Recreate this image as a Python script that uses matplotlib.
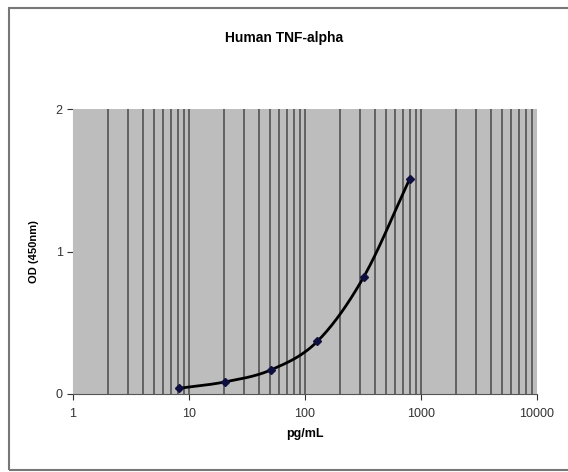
import numpy as np
import matplotlib.pyplot as plt
from matplotlib.patches import Rectangle

############### Data
conc = [8.192, 20.48, 51.2, 128, 320, 800]
od = [0.04, 0.085, 0.17, 0.37, 0.82, 1.51]
xticks = [1, 10, 100, 1000, 10000]
xticklabels = ['1', '10', '100', '1000', '10000']
yticks = [0, 1, 2]

############### Smoothed line (Catmull-Rom in log-x space, like Excel)
def smooth(x, y, n=30):
    x = np.log10(np.asarray(x, float))
    y = np.asarray(y, float)
    px = np.concatenate([[2*x[0]-x[1]], x, [2*x[-1]-x[-2]]])
    py = np.concatenate([[2*y[0]-y[1]], y, [2*y[-1]-y[-2]]])
    xs, ys = [], []
    t = np.linspace(0, 1, n)
    for i in range(1, len(px)-2):
        for p, out in ((px, xs), (py, ys)):
            p0, p1, p2, p3 = p[i-1], p[i], p[i+1], p[i+2]
            out.append(0.5*((2*p1) + (-p0+p2)*t + (2*p0-5*p1+4*p2-p3)*t**2
                            + (-p0+3*p1-3*p2+p3)*t**3))
    return 10**np.concatenate(xs), np.concatenate(ys)

sx, sy = smooth(conc, od)

############### Figure
plt.rcParams['font.family'] = ['Liberation Sans', 'DejaVu Sans']
fig = plt.figure(figsize=(5.68, 4.72), dpi=100)
fig.patches.append(Rectangle((9/568, 2/472), 570/568, 462/472, transform=fig.transFigure,
                             fill=False, edgecolor='#777777', linewidth=1.5))

ax = fig.add_axes([73/568, 78/472, 464/568, 285/472])
ax.set_facecolor('#bdbdbd')
ax.set_xscale('log')
ax.set_xlim(1, 10000)
ax.set_ylim(0, 2)

# vertical gridlines at every 1..9 of each decade
for dec in [1, 10, 100, 1000]:
    for m in range(1, 10):
        v = dec*m
        if 1 < v < 10000:
            ax.axvline(v, color='#5a5a5a', linewidth=1.3, zorder=1)

ax.plot(sx, sy, color='black', linewidth=2, zorder=3)
ax.plot(conc, od, linestyle='none', marker='D', markersize=4,
        color='#101040', zorder=4)

ax.set_xticks(xticks)
ax.set_xticklabels(xticklabels)
ax.xaxis.set_minor_locator(plt.NullLocator())
ax.set_yticks(yticks)
for s in ['top', 'right']:
    ax.spines[s].set_visible(False)
ax.spines['left'].set_color('#bdbdbd')
ax.spines['bottom'].set_color('#555555')
ax.tick_params(axis='both', labelsize=9, colors='#333333', length=4, width=0.8)
ax.tick_params(axis='x', pad=6)

ax.set_xlabel('pg/mL', fontsize=9, fontweight='bold', labelpad=6)
ax.set_ylabel('OD (450nm)', fontsize=8, fontweight='bold', labelpad=12)
fig.text(0.5, 1 - 38/472, 'Human TNF-alpha', ha='center', va='center',
         fontsize=10, fontweight='bold')

fig.savefig('out.png', dpi=100)
